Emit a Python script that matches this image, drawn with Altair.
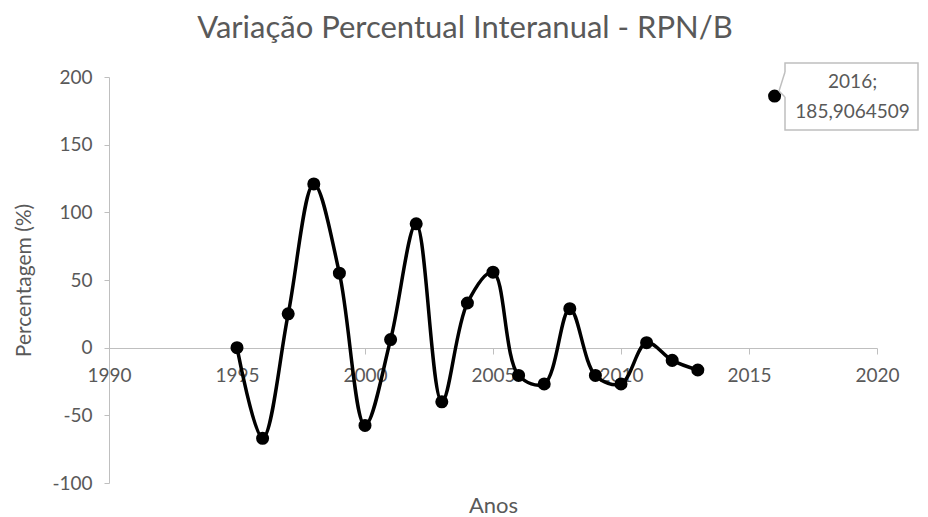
import altair as alt
import pandas as pd

years = [1995, 1996, 1997, 1998, 1999, 2000, 2001, 2002, 2003, 2004,
         2005, 2006, 2007, 2008, 2009, 2010, 2011, 2012, 2013, 2016]
values = [0.0, -67.0, 25.0, 121.0, 55.0, -57.5, 6.0, 91.5, -40.0, 33.0,
          55.8, -20.5, -26.8, 28.8, -20.5, -26.8, 3.7, -9.4, -16.5, 185.9064509]
x_ticks = [1990, 1995, 2000, 2005, 2010, 2015, 2020]
y_ticks = [-100, -50, 0, 50, 100, 150, 200]
callout_year = 2016
chart_title = "Variação Percentual Interanual - RPN/B"

df = pd.DataFrame({"ano": years, "valor": values})
df["rotulo"] = [f"{a};\n{str(v).replace('.', ',')}" for a, v in zip(years, values)]
df["titulo"] = chart_title

FONT = "Lato"
GRAY = "#595959"
AXIS_GRAY = "#bfbfbf"

x_enc = alt.X("ano:Q", scale=alt.Scale(domain=[1990, 2020], nice=False, zero=False),
              axis=alt.Axis(values=x_ticks, format="d", title="Anos", offset=-135,
                            grid=False, domainColor=AXIS_GRAY, tickColor=AXIS_GRAY,
                            tickSize=6, labelPadding=12, labelColor=GRAY,
                            labelFontSize=19, labelFont=FONT, labelFlush=False,
                            titleFont=FONT, titleFontSize=22, titleColor=GRAY,
                            titleFontWeight="normal", titleY=164,
                            titleBaseline="alphabetic"))
y_enc = alt.Y("valor:Q", scale=alt.Scale(domain=[-100, 200], nice=False),
              axis=alt.Axis(values=y_ticks, title="Percentagem (%)", grid=False,
                            labelExpr="'' + datum.value",
                            domainColor=AXIS_GRAY, tickColor=AXIS_GRAY, tickSize=5,
                            labelPadding=12, labelColor=GRAY, labelFontSize=19,
                            labelFont=FONT, titleFont=FONT, titleFontSize=21,
                            titleColor=GRAY, titleFontWeight="normal",
                            titleX=-85, titleY=203, titleBaseline="middle",
                            titleAlign="center"))

base = alt.Chart(df)
one = base.transform_filter(alt.datum.ano == callout_year)

line = base.transform_filter(alt.datum.ano <= 2013).mark_line(
    color="black", strokeWidth=3.5, interpolate="catmull-rom"
).encode(x=x_enc, y=y_enc)

points = base.mark_circle(color="black", opacity=1, size=170).encode(x=x_enc, y=y_enc)

box = one.mark_rect(fill="white", stroke=AXIS_GRAY, strokeWidth=1.5).encode(
    x=alt.value(676), x2=alt.value(809), y=alt.value(-14), y2=alt.value(53))

gap = one.mark_rule(color="white", strokeWidth=3).encode(
    x=alt.value(676), x2=alt.value(676), y=alt.value(-5), y2=alt.value(20))

ptr1 = one.mark_rule(color=AXIS_GRAY, strokeWidth=1.5).encode(
    x=alt.value(676), x2=alt.value(670), y=alt.value(-5), y2=alt.value(14))

ptr2 = one.mark_rule(color=AXIS_GRAY, strokeWidth=1.5).encode(
    x=alt.value(670), x2=alt.value(676), y=alt.value(14), y2=alt.value(20))

label = one.mark_text(
    font=FONT, fontSize=19, color=GRAY, lineBreak="\n", lineHeight=30,
    align="center", baseline="middle", dx=78, dy=-14
).encode(x=x_enc, y=y_enc, text="rotulo:N")

title = one.mark_text(
    font=FONT, fontSize=31, color=GRAY, align="center", baseline="alphabetic"
).encode(x=alt.value(356), y=alt.value(-39), text="titulo:N")

chart = alt.layer(line, points, box, gap, ptr1, ptr2, label, title).properties(
    width=768, height=406,
    autosize=alt.AutoSizeParams(type="none"),
    padding={"left": 101, "top": 69, "right": 43, "bottom": 34},
).configure_view(stroke=None)

chart.save("out.html", embed_options={"renderer": "svg", "actions": False})
